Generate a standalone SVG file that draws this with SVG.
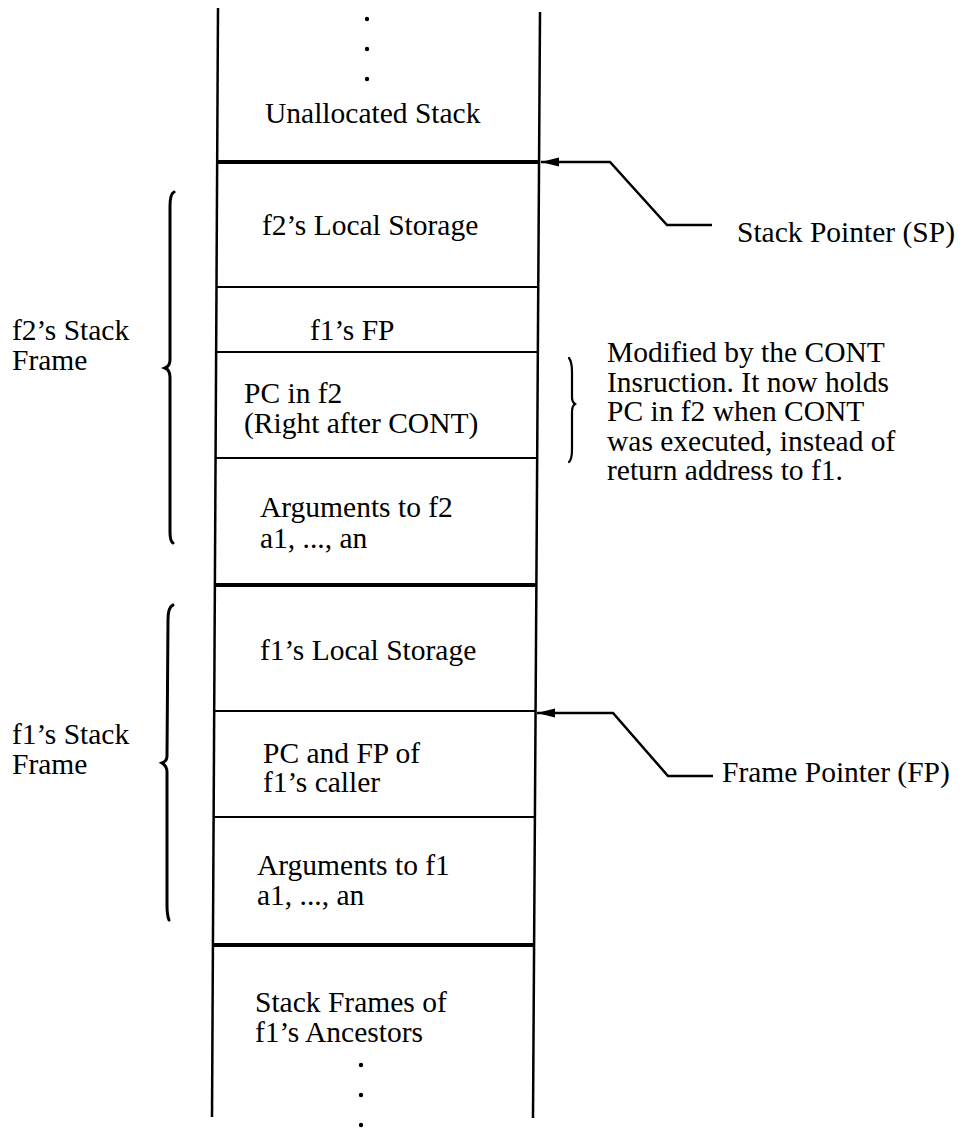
<svg xmlns="http://www.w3.org/2000/svg" width="963" height="1129" viewBox="0 0 963 1129">
<style>
text{font-family:"Liberation Serif","Times New Roman",serif;font-size:29.5px;fill:#000}
.v{stroke:#000;stroke-width:2.5;fill:none}
.h{stroke:#000;stroke-width:2;fill:none}
.hk{stroke:#000;stroke-width:4;fill:none}
.br{stroke:#000;stroke-width:3;fill:none;stroke-linecap:round}
.cn{stroke:#000;stroke-width:2.5;fill:none}
</style>
<defs>
<marker id="ah" viewBox="0 0 18 10" refX="18" refY="5" markerWidth="18" markerHeight="10" markerUnits="userSpaceOnUse" orient="auto">
<path d="M18,5 L0,0.5 L0,9.5 Z" fill="#000"/>
</marker>
</defs>
<rect width="963" height="1129" fill="#fff"/>
<g id="stack">
<line class="v" x1="218" y1="8" x2="212" y2="1117"/>
<line class="v" x1="540" y1="12" x2="533" y2="1118"/>
<line class="hk" x1="217" y1="162" x2="539" y2="162"/>
<line class="h" x1="216.5" y1="287" x2="538.3" y2="287"/>
<line class="h" x1="216.1" y1="352" x2="537.8" y2="352"/>
<line class="h" x1="215.6" y1="458" x2="537.2" y2="458"/>
<line class="hk" x1="214.9" y1="585" x2="536.4" y2="585"/>
<line class="h" x1="214.2" y1="711" x2="535.6" y2="711"/>
<line class="h" x1="213.6" y1="817" x2="534.9" y2="817"/>
<line class="hk" x1="212.9" y1="945" x2="534.1" y2="945"/>
</g>
<g id="unallocated">
<circle cx="367" cy="19" r="2.2"/>
<circle cx="367" cy="49" r="2.2"/>
<circle cx="367" cy="79" r="2.2"/>
<text x="265" y="123">Unallocated Stack</text>
</g>
<g id="f2-local"><text x="262" y="235">f2’s Local Storage</text></g>
<g id="f1-fp"><text x="310" y="340">f1’s FP</text></g>
<g id="pc-f2"><text x="244" y="403">PC in f2</text><text x="244" y="433">(Right after CONT)</text></g>
<g id="args-f2"><text x="260" y="517">Arguments to f2</text><text x="260" y="548">a1, ..., an</text></g>
<g id="f1-local"><text x="260" y="660">f1’s Local Storage</text></g>
<g id="pc-fp-caller"><text x="263" y="763">PC and FP of</text><text x="263" y="792">f1’s caller</text></g>
<g id="args-f1"><text x="257" y="875">Arguments to f1</text><text x="257" y="905">a1, ..., an</text></g>
<g id="ancestors">
<text x="255" y="1012">Stack Frames of</text><text x="255" y="1042">f1’s Ancestors</text>
<circle cx="361" cy="1065" r="2.2"/>
<circle cx="361" cy="1095" r="2.2"/>
<circle cx="361" cy="1125" r="2.2"/>
</g>
<g id="f2-frame">
<path class="br" d="M174,192 Q170,194 170,206 L170,360 Q170,366 165,368 Q170,370 170,377 L170,532 Q170,541 173,543"/>
<text x="12" y="340">f2’s Stack</text><text x="12" y="370">Frame</text>
</g>
<g id="f1-frame">
<path class="br" d="M173,605 Q168,607 168,620 L167,756 Q167,761 162,763 Q167,766 167,772 L167,905 Q167,915 169,920"/>
<text x="12" y="744">f1’s Stack</text><text x="12" y="774">Frame</text>
</g>
<g id="note">
<path class="br" d="M569,358 Q572,362 572,372 L572,397 Q572,402 575,404 Q572,406 572,412 L572,450 Q572,459 569,462" style="stroke-width:2.2"/>
<text x="607" y="362">Modified by the CONT</text>
<text x="607" y="391.5">Insruction. It now holds</text>
<text x="607" y="421">PC in f2 when CONT</text>
<text x="607" y="450.5">was executed, instead of</text>
<text x="607" y="480">return address to f1.</text>
</g>
<g id="sp-label"><text x="737" y="242">Stack Pointer (SP)</text></g>
<g id="fp-label"><text x="722" y="782">Frame Pointer (FP)</text></g>
<g id="connectors">
<polyline class="cn" points="712,225 667,225 610,162 541,162" marker-end="url(#ah)"/>
<polyline class="cn" points="713,776 668,776 613,713 537,713" marker-end="url(#ah)"/>
</g>
</svg>
